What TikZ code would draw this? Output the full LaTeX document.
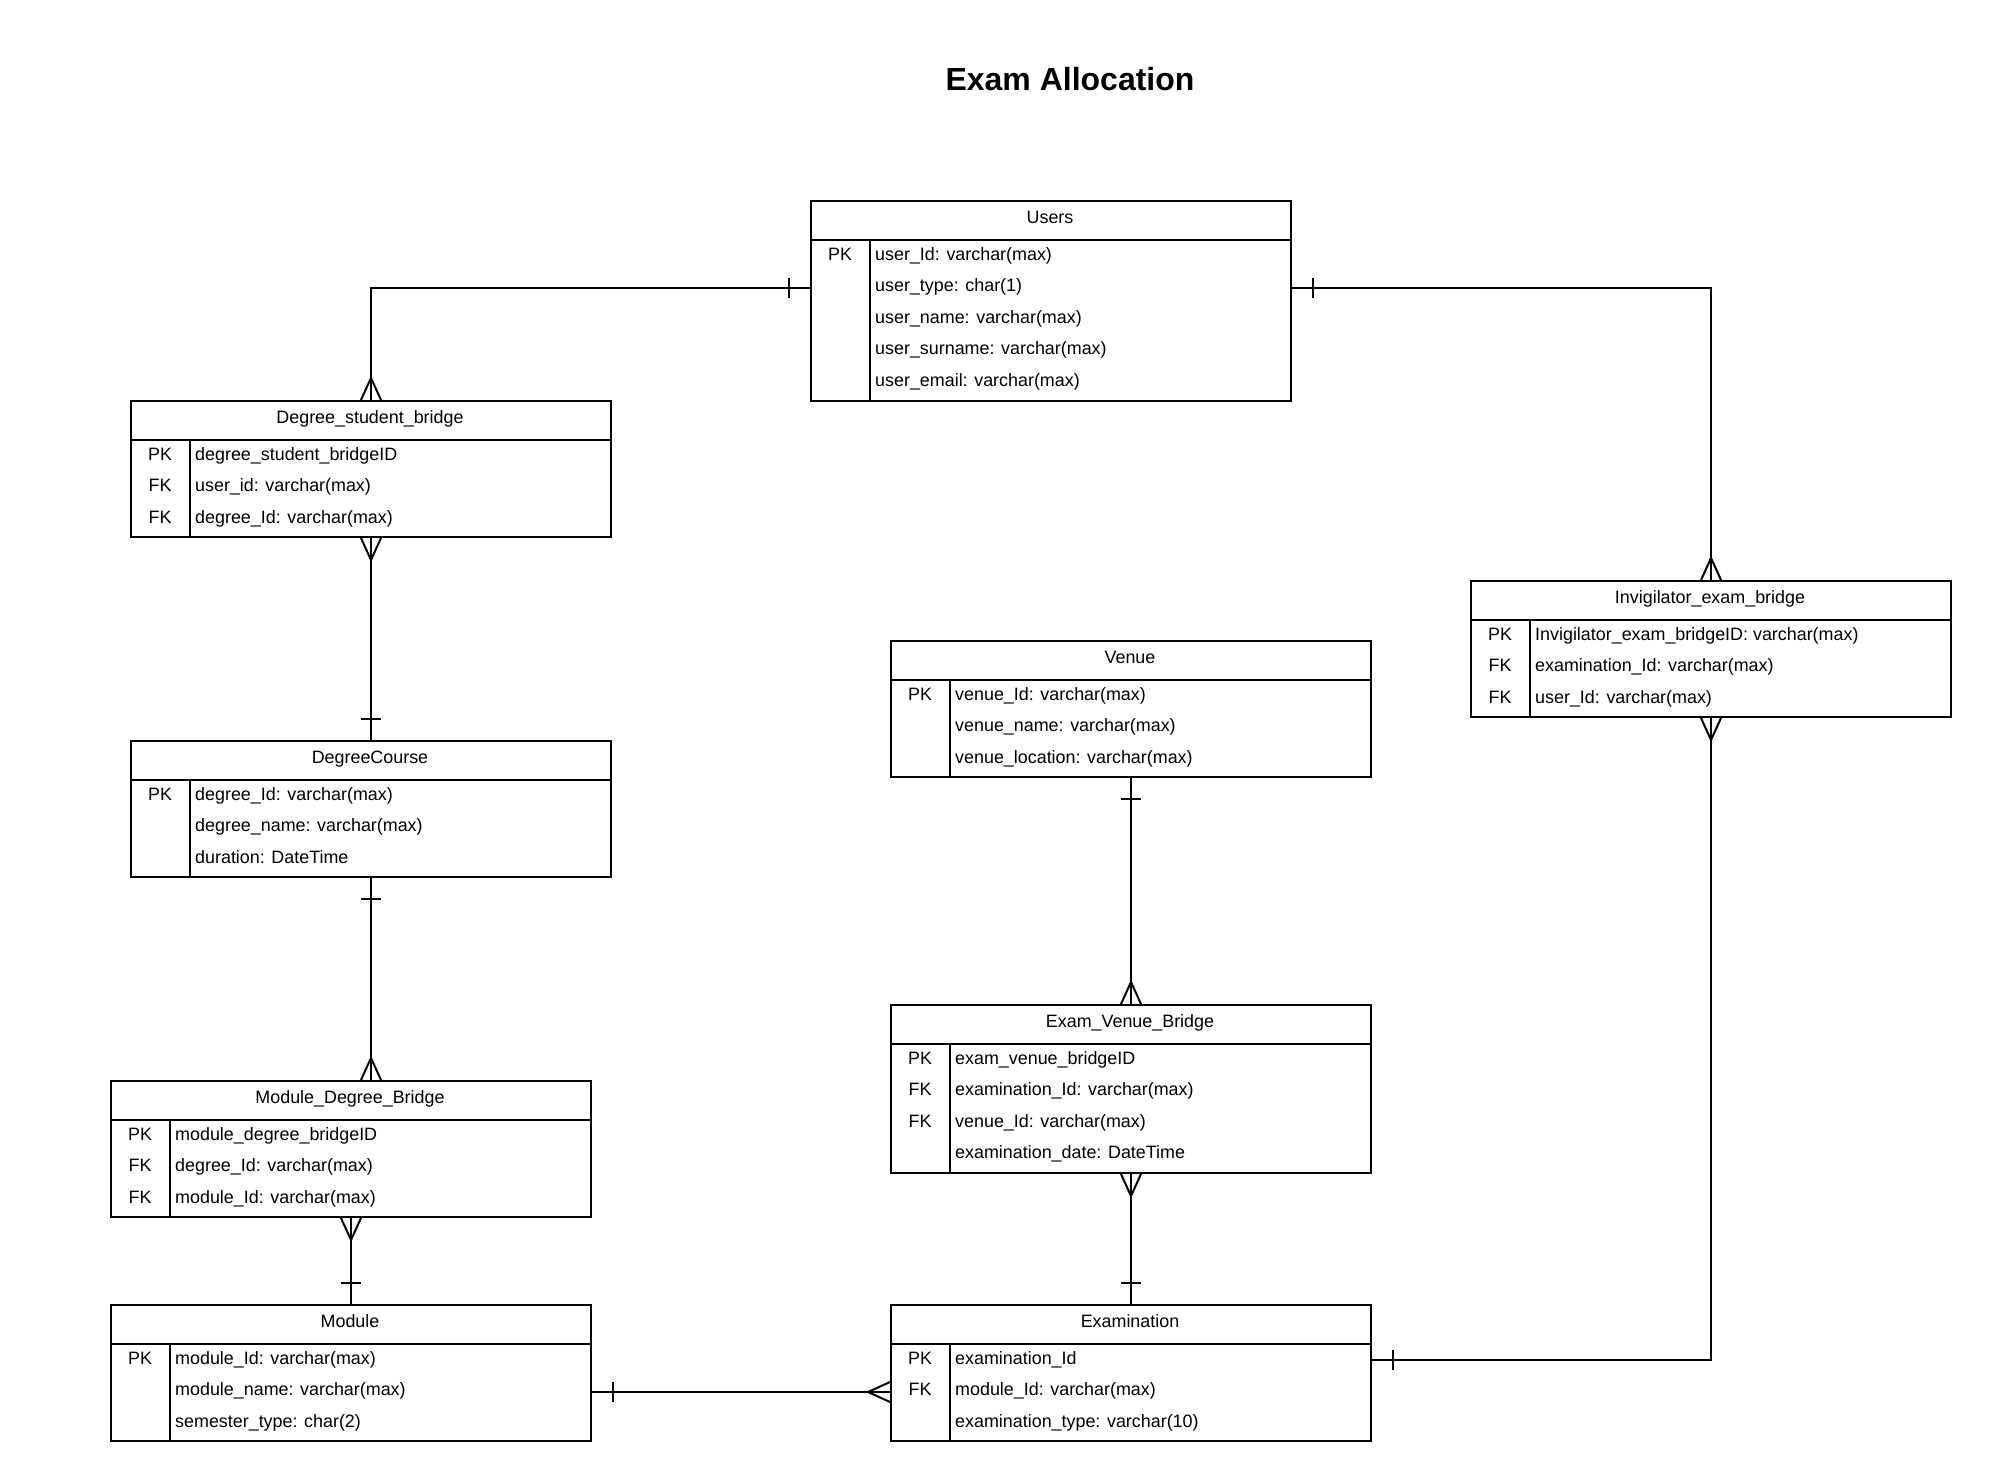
\documentclass[tikz,border=0pt]{standalone}
\usepackage{fontspec}
\setmainfont{Liberation Sans}
\usetikzlibrary{calc}
\tikzset{
  ebox/.style={draw, line width=2pt, minimum width=480pt, inner sep=0pt, anchor=north west},
  eline/.style={line width=2pt},
  conn/.style={line width=2pt},
  rtxt/.style={font=\fontsize{17.9}{21}\selectfont, inner sep=0pt, text height=13.5pt, text depth=3.7pt},
  htxt/.style={rtxt},
  ktxt/.style={rtxt},
  ftxt/.style={rtxt, anchor=west},
  crowN/.pic={\draw[conn] (-10,0) -- (0,-22) -- (10,0);},
  crowS/.pic={\draw[conn] (-10,0) -- (0,22) -- (10,0);},
  crowW/.pic={\draw[conn] (0,-10) -- (-22,0) -- (0,10);},
  barN/.pic={\draw[conn] (-10,-21) -- (10,-21);},
  barS/.pic={\draw[conn] (-10,21) -- (10,21);},
  barE/.pic={\draw[conn] (21,-10) -- (21,10);},
  barW/.pic={\draw[conn] (-21,-10) -- (-21,10);},
}
% #1 name, #2 x, #3 y, #4 rows, #5 title, #6 key/text list
\newcommand{\entity}[6]{%
  \node[ebox, minimum height={40+32*#4}] (#1) at (#2,#3) {};
  \node[htxt] (#1-h) at ({#2+240},{#3+19}) {#5};
  \draw[eline] ({#2},{#3+40}) -- ({#2+480},{#3+40});
  \draw[eline] ({#2+60},{#3+40}) -- ({#2+60},{#3+40+32*#4});
  \foreach \k/\t [count=\i from 0] in {#6} {
    \node[ktxt] (#1-k\i) at ({#2+30},{#3+55.5+31.5*\i}) {\k};
    \node[ftxt] (#1-f\i) at ({#2+65},{#3+55.5+31.5*\i}) {\t};
  }%
}
\begin{document}
\begin{tikzpicture}[x=1pt,y=-1pt]
\fill[white] (0,0) rectangle (1990,1480);
\useasboundingbox (0,0) rectangle (1990,1480);

\node[font=\bfseries\fontsize{32}{38}\selectfont, inner sep=0pt] (title) at (1070,79.5) {Exam Allocation};

\entity{users}{810}{200}{5}{Users}{PK/user\_Id: varchar(max), {}/user\_type: char(1), {}/user\_name: varchar(max), {}/user\_surname: varchar(max), {}/user\_email: varchar(max)}
\entity{dsb}{130}{400}{3}{Degree\_student\_bridge}{PK/degree\_student\_bridgeID, FK/user\_id: varchar(max), FK/degree\_Id: varchar(max)}
\entity{dc}{130}{740}{3}{DegreeCourse}{PK/degree\_Id: varchar(max), {}/degree\_name: varchar(max), {}/duration: DateTime}
\entity{mdb}{110}{1080}{3}{Module\_Degree\_Bridge}{PK/module\_degree\_bridgeID, FK/degree\_Id: varchar(max), FK/module\_Id: varchar(max)}
\entity{module}{110}{1304}{3}{Module}{PK/module\_Id: varchar(max), {}/module\_name: varchar(max), {}/semester\_type: char(2)}
\entity{venue}{890}{640}{3}{Venue}{PK/venue\_Id: varchar(max), {}/venue\_name: varchar(max), {}/venue\_location: varchar(max)}
\entity{evb}{890}{1004}{4}{Exam\_Venue\_Bridge}{PK/exam\_venue\_bridgeID, FK/examination\_Id: varchar(max), FK/venue\_Id: varchar(max), {}/examination\_date: DateTime}
\entity{exam}{890}{1304}{3}{Examination}{PK/examination\_Id, FK/module\_Id: varchar(max), {}/examination\_type: varchar(10)}
\entity{inv}{1470}{580}{3}{Invigilator\_exam\_bridge}{PK/Invigilator\_exam\_bridgeID: varchar(max), FK/examination\_Id: varchar(max), FK/user\_Id: varchar(max)}

% Users -> Degree_student_bridge
\coordinate (uW) at ($(users.north west)+(0,88)$);
\draw[conn] (uW) -| (dsb.north);
\pic at (uW) {barW};
\pic at (dsb.north) {crowN};
% Users -> Invigilator_exam_bridge
\coordinate (uE) at ($(users.north east)+(0,88)$);
\draw[conn] (uE) -| (inv.north);
\pic at (uE) {barE};
\pic at (inv.north) {crowN};
% Degree_student_bridge -> DegreeCourse
\draw[conn] (dsb.south) -- (dc.north);
\pic at (dsb.south) {crowS};
\pic at (dc.north) {barN};
% DegreeCourse -> Module_Degree_Bridge
\coordinate (mdbN) at (dc.south |- mdb.north);
\draw[conn] (dc.south) -- (mdbN);
\pic at (dc.south) {barS};
\pic at (mdbN) {crowN};
% Module_Degree_Bridge -> Module
\draw[conn] (mdb.south) -- (module.north);
\pic at (mdb.south) {crowS};
\pic at (module.north) {barN};
% Module -> Examination
\coordinate (modE) at ($(module.north east)+(0,88)$);
\coordinate (exW) at (exam.west |- modE);
\draw[conn] (modE) -- (exW);
\pic at (modE) {barE};
\pic at (exW) {crowW};
% Venue -> Exam_Venue_Bridge
\draw[conn] (venue.south) -- (evb.north);
\pic at (venue.south) {barS};
\pic at (evb.north) {crowN};
% Exam_Venue_Bridge -> Examination
\draw[conn] (evb.south) -- (exam.north);
\pic at (evb.south) {crowS};
\pic at (exam.north) {barN};
% Invigilator_exam_bridge -> Examination
\coordinate (exE) at ($(exam.north east)+(0,56)$);
\draw[conn] (inv.south) |- (exE);
\pic at (inv.south) {crowS};
\pic at (exE) {barE};
\end{tikzpicture}
\end{document}
